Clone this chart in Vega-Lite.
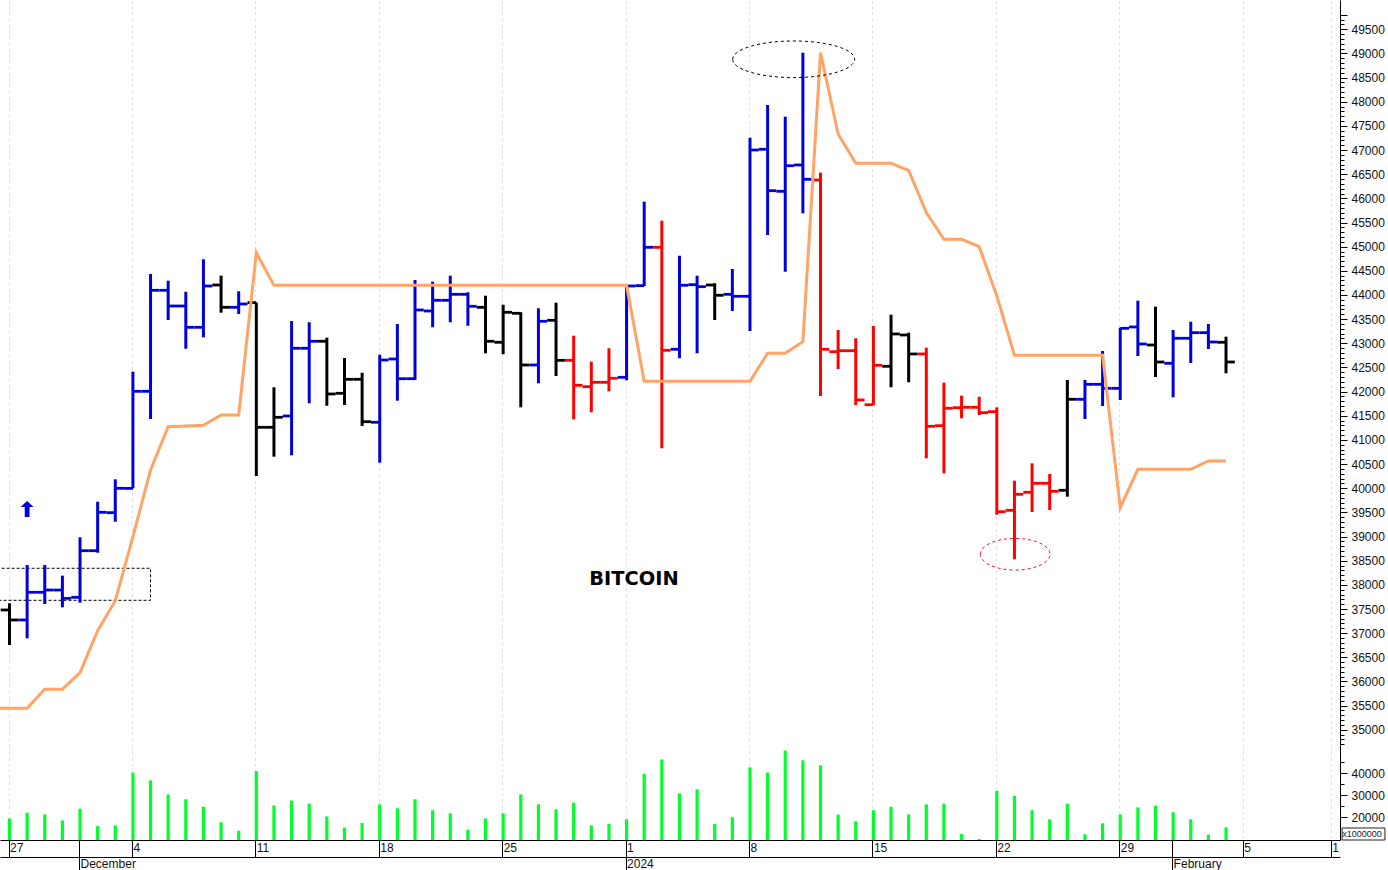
{
  "$schema": "https://vega.github.io/schema/vega-lite/v6.json",
  "background": "white",
  "padding": 0,
  "spacing": 0,
  "bounds": "flush",
  "config": {
    "view": {"stroke": null},
    "axis": {"labelFont": "Liberation Sans", "labelFontSize": 12, "labelColor": "#111111", "domainColor": "#000000", "tickColor": "#000000", "title": null}
  },
  "datasets": {
    "bars": [
      {"date":"2023-11-27","open":37480,"high":37618,"low":36755,"close":37273,"volume":19500,"trend":"flat"},
      {"date":"2023-11-28","open":37273,"high":38411,"low":36893,"close":37846,"volume":22100,"trend":"up"},
      {"date":"2023-11-29","open":37846,"high":38411,"low":37604,"close":37893,"volume":21300,"trend":"up"},
      {"date":"2023-11-30","open":37893,"high":38190,"low":37535,"close":37722,"volume":18600,"trend":"up"},
      {"date":"2023-12-01","open":37742,"high":38984,"low":37631,"close":38707,"volume":23900,"trend":"up"},
      {"date":"2023-12-02","open":38707,"high":39721,"low":38666,"close":39502,"volume":16000,"trend":"up"},
      {"date":"2023-12-03","open":39494,"high":40185,"low":39307,"close":39999,"volume":16300,"trend":"up"},
      {"date":"2023-12-04","open":39999,"high":42412,"low":39999,"close":42006,"volume":40300,"trend":"up"},
      {"date":"2023-12-05","open":42006,"high":44435,"low":41433,"close":44097,"volume":36800,"trend":"up"},
      {"date":"2023-12-06","open":44097,"high":44296,"low":43482,"close":43772,"volume":30400,"trend":"up"},
      {"date":"2023-12-07","open":43772,"high":44068,"low":42888,"close":43331,"volume":28200,"trend":"up"},
      {"date":"2023-12-08","open":43331,"high":44739,"low":43124,"close":44186,"volume":24800,"trend":"up"},
      {"date":"2023-12-09","open":44207,"high":44400,"low":43634,"close":43745,"volume":17700,"trend":"flat"},
      {"date":"2023-12-10","open":43745,"high":44077,"low":43607,"close":43814,"volume":13900,"trend":"up"},
      {"date":"2023-12-11","open":43841,"high":43841,"low":40253,"close":41261,"volume":41000,"trend":"flat"},
      {"date":"2023-12-12","open":41261,"high":42089,"low":40653,"close":41468,"volume":25400,"trend":"flat"},
      {"date":"2023-12-13","open":41495,"high":43462,"low":40682,"close":42897,"volume":27600,"trend":"up"},
      {"date":"2023-12-14","open":42897,"high":43435,"low":41758,"close":43042,"volume":26200,"trend":"up"},
      {"date":"2023-12-15","open":43042,"high":43116,"low":41708,"close":41951,"volume":20400,"trend":"flat"},
      {"date":"2023-12-16","open":41965,"high":42696,"low":41723,"close":42255,"volume":15300,"trend":"flat"},
      {"date":"2023-12-17","open":42255,"high":42391,"low":41288,"close":41377,"volume":17400,"trend":"flat"},
      {"date":"2023-12-18","open":41365,"high":42764,"low":40529,"close":42654,"volume":25900,"trend":"up"},
      {"date":"2023-12-19","open":42675,"high":43400,"low":41812,"close":42267,"volume":24100,"trend":"up"},
      {"date":"2023-12-20","open":42267,"high":44310,"low":42240,"close":43690,"volume":28200,"trend":"up"},
      {"date":"2023-12-21","open":43669,"high":44275,"low":43331,"close":43890,"volume":23200,"trend":"up"},
      {"date":"2023-12-22","open":43890,"high":44400,"low":43435,"close":44014,"volume":21800,"trend":"up"},
      {"date":"2023-12-23","open":44014,"high":44056,"low":43364,"close":43766,"volume":14400,"trend":"up"},
      {"date":"2023-12-24","open":43745,"high":43985,"low":42793,"close":43042,"volume":19500,"trend":"flat"},
      {"date":"2023-12-25","open":43021,"high":43799,"low":42773,"close":43642,"volume":21800,"trend":"flat"},
      {"date":"2023-12-26","open":43621,"high":43642,"low":41675,"close":42551,"volume":30400,"trend":"flat"},
      {"date":"2023-12-27","open":42551,"high":43725,"low":42172,"close":43456,"volume":25900,"trend":"up"},
      {"date":"2023-12-28","open":43476,"high":43841,"low":42323,"close":42648,"volume":23600,"trend":"flat"},
      {"date":"2023-12-29","open":42648,"high":43157,"low":41427,"close":42131,"volume":26700,"trend":"down"},
      {"date":"2023-12-30","open":42102,"high":42619,"low":41572,"close":42193,"volume":16300,"trend":"down"},
      {"date":"2023-12-31","open":42193,"high":42897,"low":42006,"close":42276,"volume":17000,"trend":"down"},
      {"date":"2024-01-01","open":42296,"high":44172,"low":42234,"close":44186,"volume":19100,"trend":"up"},
      {"date":"2024-01-02","open":44193,"high":45931,"low":44186,"close":44987,"volume":39700,"trend":"up"},
      {"date":"2024-01-03","open":44987,"high":45538,"low":40827,"close":42855,"volume":46300,"trend":"down"},
      {"date":"2024-01-04","open":42876,"high":44813,"low":42690,"close":44201,"volume":30900,"trend":"up"},
      {"date":"2024-01-05","open":44213,"high":44400,"low":42793,"close":44172,"volume":32700,"trend":"up"},
      {"date":"2024-01-06","open":44207,"high":44242,"low":43482,"close":43994,"volume":17000,"trend":"flat"},
      {"date":"2024-01-07","open":44014,"high":44538,"low":43669,"close":43973,"volume":20000,"trend":"up"},
      {"date":"2024-01-08","open":43973,"high":47256,"low":43255,"close":47001,"volume":42700,"trend":"up"},
      {"date":"2024-01-09","open":47016,"high":47933,"low":45242,"close":46159,"volume":40300,"trend":"up"},
      {"date":"2024-01-10","open":46146,"high":47691,"low":44482,"close":46676,"volume":50300,"trend":"up"},
      {"date":"2024-01-11","open":46691,"high":49016,"low":45691,"close":46395,"volume":45900,"trend":"up"},
      {"date":"2024-01-12","open":46380,"high":46532,"low":41909,"close":42876,"volume":43600,"trend":"down"},
      {"date":"2024-01-13","open":42826,"high":43276,"low":42468,"close":42847,"volume":21200,"trend":"down"},
      {"date":"2024-01-14","open":42847,"high":43104,"low":41723,"close":41827,"volume":18200,"trend":"down"},
      {"date":"2024-01-15","open":41729,"high":43358,"low":41723,"close":42545,"volume":23200,"trend":"down"},
      {"date":"2024-01-16","open":42524,"high":43592,"low":42089,"close":43193,"volume":24800,"trend":"flat"},
      {"date":"2024-01-17","open":43172,"high":43220,"low":42193,"close":42779,"volume":21300,"trend":"flat"},
      {"date":"2024-01-18","open":42779,"high":42909,"low":40620,"close":41282,"volume":25900,"trend":"down"},
      {"date":"2024-01-19","open":41295,"high":42185,"low":40309,"close":41655,"volume":26200,"trend":"down"},
      {"date":"2024-01-20","open":41667,"high":41916,"low":41448,"close":41675,"volume":12400,"trend":"down"},
      {"date":"2024-01-21","open":41675,"high":41895,"low":41516,"close":41564,"volume":10100,"trend":"down"},
      {"date":"2024-01-22","open":41585,"high":41675,"low":39452,"close":39514,"volume":32000,"trend":"down"},
      {"date":"2024-01-23","open":39543,"high":40156,"low":38529,"close":39874,"volume":29700,"trend":"down"},
      {"date":"2024-01-24","open":39916,"high":40516,"low":39508,"close":40102,"volume":23200,"trend":"down"},
      {"date":"2024-01-25","open":40102,"high":40295,"low":39549,"close":39936,"volume":19100,"trend":"down"},
      {"date":"2024-01-26","open":39957,"high":42240,"low":39825,"close":41841,"volume":26200,"trend":"flat"},
      {"date":"2024-01-27","open":41841,"high":42240,"low":41433,"close":42151,"volume":12300,"trend":"up"},
      {"date":"2024-01-28","open":42151,"high":42841,"low":41702,"close":42068,"volume":17300,"trend":"up"},
      {"date":"2024-01-29","open":42068,"high":43323,"low":41827,"close":43310,"volume":21300,"trend":"up"},
      {"date":"2024-01-30","open":43338,"high":43882,"low":42737,"close":42986,"volume":24500,"trend":"up"},
      {"date":"2024-01-31","open":42965,"high":43758,"low":42303,"close":42613,"volume":25300,"trend":"flat"},
      {"date":"2024-02-01","open":42586,"high":43276,"low":41882,"close":43104,"volume":22300,"trend":"up"},
      {"date":"2024-02-02","open":43104,"high":43447,"low":42592,"close":43220,"volume":19100,"trend":"up"},
      {"date":"2024-02-03","open":43220,"high":43400,"low":42882,"close":43027,"volume":12100,"trend":"up"},
      {"date":"2024-02-04","open":43021,"high":43137,"low":42379,"close":42613,"volume":15400,"trend":"flat"}
    ],
    "stop": [
      {"date":"2023-11-26","value":35445},{"date":"2023-11-27","value":35445},{"date":"2023-11-28","value":35445},
      {"date":"2023-11-29","value":35838},{"date":"2023-11-30","value":35838},{"date":"2023-12-01","value":36182},
      {"date":"2023-12-02","value":37051},{"date":"2023-12-03","value":37672},{"date":"2023-12-04","value":38997},
      {"date":"2023-12-05","value":40378},{"date":"2023-12-06","value":41274},{"date":"2023-12-07","value":41288},
      {"date":"2023-12-08","value":41303},{"date":"2023-12-09","value":41516},{"date":"2023-12-10","value":41516},
      {"date":"2023-12-11","value":44876},{"date":"2023-12-12","value":44199},{"date":"2023-12-13","value":44199},
      {"date":"2023-12-14","value":44199},{"date":"2023-12-15","value":44199},{"date":"2023-12-16","value":44199},
      {"date":"2023-12-17","value":44199},{"date":"2023-12-18","value":44199},{"date":"2023-12-19","value":44199},
      {"date":"2023-12-20","value":44199},{"date":"2023-12-21","value":44199},{"date":"2023-12-22","value":44199},
      {"date":"2023-12-23","value":44199},{"date":"2023-12-24","value":44199},{"date":"2023-12-25","value":44199},
      {"date":"2023-12-26","value":44199},{"date":"2023-12-27","value":44199},{"date":"2023-12-28","value":44199},
      {"date":"2023-12-29","value":44199},{"date":"2023-12-30","value":44199},{"date":"2023-12-31","value":44199},
      {"date":"2024-01-01","value":44199},{"date":"2024-01-02","value":42214},{"date":"2024-01-03","value":42214},
      {"date":"2024-01-04","value":42214},{"date":"2024-01-05","value":42214},{"date":"2024-01-06","value":42214},
      {"date":"2024-01-07","value":42214},{"date":"2024-01-08","value":42214},{"date":"2024-01-09","value":42793},
      {"date":"2024-01-10","value":42793},{"date":"2024-01-11","value":43033},{"date":"2024-01-12","value":49016},
      {"date":"2024-01-13","value":47333},{"date":"2024-01-14","value":46726},{"date":"2024-01-15","value":46726},
      {"date":"2024-01-16","value":46726},{"date":"2024-01-17","value":46581},{"date":"2024-01-18","value":45704},
      {"date":"2024-01-19","value":45153},{"date":"2024-01-20","value":45153},{"date":"2024-01-21","value":45000},
      {"date":"2024-01-22","value":43980},{"date":"2024-01-23","value":42752},{"date":"2024-01-24","value":42752},
      {"date":"2024-01-25","value":42752},{"date":"2024-01-26","value":42752},{"date":"2024-01-27","value":42752},
      {"date":"2024-01-28","value":42752},{"date":"2024-01-29","value":39597},{"date":"2024-01-30","value":40392},
      {"date":"2024-01-31","value":40392},{"date":"2024-02-01","value":40392},{"date":"2024-02-02","value":40392},
      {"date":"2024-02-03","value":40564},{"date":"2024-02-04","value":40564}
    ]
  },
  "vconcat": [
    {
      "width": 1340,
      "height": 745,
      "encoding": {
        "x": {
          "field": "date",
          "type": "temporal",
          "scale": {"type": "utc", "domain": ["2023-11-26T11:04:00Z", "2024-02-10T11:10:00Z"], "nice": false, "padding": 0},
          "axis": {
            "orient": "bottom",
            "values": ["2023-11-27", "2023-12-04", "2023-12-11", "2023-12-18", "2023-12-25", "2024-01-01", "2024-01-08", "2024-01-15", "2024-01-22", "2024-01-29", "2024-02-05", "2024-02-10"],
            "tickCount": 20, "tickOffset": -1,
            "grid": true, "gridDash": [3, 3], "gridColor": "#dddfee", "gridWidth": 1,
            "ticks": false, "labels": false, "domain": false, "title": null
          }
        }
      },
      "layer": [
        {
          "data": {"values": [{"start": "2023-11-24", "end": "2023-12-05", "top": 38343, "bottom": 37680}]},
          "mark": {"type": "rect", "fill": null, "stroke": "#000000", "strokeWidth": 1, "strokeDash": [3, 2], "clip": true},
          "encoding": {
            "x": {"field": "start", "type": "temporal"},
            "x2": {"field": "end"},
            "y": {"field": "top", "type": "quantitative", "scale": {"domain": [34685, 50106], "zero": false, "nice": false}},
            "y2": {"field": "bottom"}
          }
        },
        {
          "data": {"name": "bars"},
          "mark": {"type": "rule", "strokeWidth": 3, "clip": true},
          "encoding": {
            "y": {"field": "low", "type": "quantitative"},
            "y2": {"field": "high"},
            "color": {"field": "trend", "type": "nominal", "scale": {"domain": ["up", "flat", "down"], "range": ["#0000dc", "#000000", "#ff0000"]}, "legend": null}
          }
        },
        {
          "data": {"name": "bars"},
          "mark": {"type": "tick", "orient": "horizontal", "size": 8.8, "thickness": 2.8, "xOffset": -4.4, "opacity": 1, "clip": true},
          "encoding": {
            "y": {"field": "open", "type": "quantitative"},
            "color": {"field": "trend", "type": "nominal", "legend": null}
          }
        },
        {
          "data": {"name": "bars"},
          "mark": {"type": "tick", "orient": "horizontal", "size": 8.8, "thickness": 2.8, "xOffset": 4.4, "opacity": 1, "clip": true},
          "encoding": {
            "y": {"field": "close", "type": "quantitative"},
            "color": {"field": "trend", "type": "nominal", "legend": null}
          }
        },
        {
          "data": {"name": "stop"},
          "mark": {"type": "line", "color": "#ffa366", "strokeWidth": 3, "strokeJoin": "miter", "clip": true},
          "encoding": {
            "y": {"field": "value", "type": "quantitative"}
          }
        },
        {
          "data": {"values": [{"date": "2024-01-10T11:27:00Z", "price": 48879}]},
          "mark": {"type": "point", "filled": false, "stroke": "#000000", "strokeWidth": 1, "strokeDash": [3, 3], "opacity": 1, "size": 14884, "shape": "M-1,0 A1,0.3 0 1,1 1,0 A1,0.3 0 1,1 -1,0 Z"},
          "encoding": {
            "y": {"field": "price", "type": "quantitative"}
          }
        },
        {
          "data": {"values": [{"date": "2024-01-23T01:00:00Z", "price": 38634}]},
          "mark": {"type": "point", "filled": false, "stroke": "#f0103c", "strokeWidth": 1, "strokeDash": [3, 3], "opacity": 1, "size": 4858, "shape": "M-1,0 A1,0.454 0 1,1 1,0 A1,0.454 0 1,1 -1,0 Z"},
          "encoding": {
            "y": {"field": "price", "type": "quantitative"}
          }
        },
        {
          "data": {"values": [{"date": "2023-11-28", "price": 39571}]},
          "mark": {"type": "point", "filled": true, "fill": "#0000dc", "stroke": null, "opacity": 1, "size": 256, "shape": "M0,-1 L0.8,-0.25 L0.3,-0.25 L0.3,1 L-0.3,1 L-0.3,-0.25 L-0.8,-0.25 Z"},
          "encoding": {
            "y": {"field": "price", "type": "quantitative"}
          }
        },
        {
          "data": {"values": [{"date": "2024-01-01T10:00:00Z", "price": 38130, "label": "BITCOIN"}]},
          "mark": {"type": "text", "font": "DejaVu Sans", "fontWeight": "bold", "fontSize": 19.4, "color": "#000000"},
          "encoding": {
            "y": {
              "field": "price",
              "type": "quantitative",
              "axis": {
                "orient": "right", "labelOverlap": false, "labelPadding": 4, "tickCount": 200,
                "values": [34700,34800,34900,35000,35100,35200,35300,35400,35500,35600,35700,35800,35900,36000,36100,36200,36300,36400,36500,36600,36700,36800,36900,37000,37100,37200,37300,37400,37500,37600,37700,37800,37900,38000,38100,38200,38300,38400,38500,38600,38700,38800,38900,39000,39100,39200,39300,39400,39500,39600,39700,39800,39900,40000,40100,40200,40300,40400,40500,40600,40700,40800,40900,41000,41100,41200,41300,41400,41500,41600,41700,41800,41900,42000,42100,42200,42300,42400,42500,42600,42700,42800,42900,43000,43100,43200,43300,43400,43500,43600,43700,43800,43900,44000,44100,44200,44300,44400,44500,44600,44700,44800,44900,45000,45100,45200,45300,45400,45500,45600,45700,45800,45900,46000,46100,46200,46300,46400,46500,46600,46700,46800,46900,47000,47100,47200,47300,47400,47500,47600,47700,47800,47900,48000,48100,48200,48300,48400,48500,48600,48700,48800,48900,49000,49100,49200,49300,49400,49500,49600,49700,49800],
                "labelExpr": "datum.value % 500 === 0 ? format(datum.value, 'd') : ''",
                "tickSize": {"condition": {"test": "datum.value % 500 === 0 || datum.value === 49800", "value": 7}, "value": 4},
                "grid": false, "title": null
              }
            },
            "text": {"field": "label", "type": "nominal"}
          }
        }
      ]
    },
    {
      "width": 1340,
      "height": 95,
      "resolve": {"axis": {"x": "independent"}},
      "layer": [
        {
          "data": {"name": "bars"},
          "mark": {"type": "bar", "width": 3.2, "color": "#00ff2a", "clip": true},
          "encoding": {
            "x": {
              "field": "date",
              "type": "temporal",
              "scale": {"type": "utc", "domain": ["2023-11-26T11:04:00Z", "2024-02-10T11:10:00Z"], "nice": false, "padding": 0},
              "axis": {
                "orient": "bottom",
                "values": ["2023-11-27", "2023-12-04", "2023-12-11", "2023-12-18", "2023-12-25", "2024-01-01", "2024-01-08", "2024-01-15", "2024-01-22", "2024-01-29", "2024-02-05", "2024-02-10"],
                "tickCount": 20, "tickOffset": -1,
                "grid": true, "gridDash": [3, 3], "gridColor": "#dddfee", "gridWidth": 1,
                "tickSize": 17, "labelAlign": "left", "labelBaseline": "top", "labelPadding": -15, "labelOffset": 1,
                "labelFlush": false, "labelOverlap": false, "title": null,
                "labelExpr": "utcdate(datum.value) === 10 ? '1' : '' + utcdate(datum.value)"
              }
            },
            "y": {
              "field": "volume",
              "type": "quantitative",
              "scale": {"domain": [9680, 52860], "zero": false, "nice": false},
              "axis": {
                "orient": "right", "values": [20000, 25000, 30000, 35000, 40000, 45000], "tickCount": 10, "labelOverlap": false, "labelPadding": 4,
                "labelExpr": "datum.value % 10000 === 0 ? format(datum.value, 'd') : ''",
                "tickSize": {"condition": {"test": "datum.value % 10000 === 0", "value": 7}, "value": 4},
                "grid": false, "title": null
              }
            }
          }
        },
        {
          "data": {"values": [{"date": "2023-12-01", "volume": 20000}, {"date": "2024-01-01", "volume": 20000}, {"date": "2024-02-01", "volume": 20000}]},
          "mark": {"type": "point", "opacity": 0},
          "encoding": {
            "x": {
              "field": "date",
              "type": "temporal",
              "axis": {
                "orient": "bottom",
                "values": ["2023-12-01", "2024-01-01", "2024-02-01"],
                "tickCount": 5, "tickOffset": -1,
                "domain": false, "grid": false, "tickSize": 30, "labelAlign": "left", "labelBaseline": "top",
                "labelPadding": -12, "labelOffset": 1, "labelFlush": false, "labelOverlap": false, "title": null,
                "labelExpr": "utcmonth(datum.value) === 0 ? '' + utcyear(datum.value) : utcFormat(datum.value, '%B')"
              }
            },
            "y": {"field": "volume", "type": "quantitative"}
          }
        },
        {
          "data": {"values": [{"date": "2024-01-01", "volume": 20000}]},
          "mark": {"type": "point", "opacity": 0},
          "encoding": {
            "x": {
              "field": "date",
              "type": "temporal",
              "axis": {"orient": "bottom", "offset": 17, "values": [], "domain": true, "ticks": false, "labels": false, "grid": false, "title": null}
            },
            "y": {"field": "volume", "type": "quantitative"}
          }
        },
        {
          "data": {"values": [{"start": "2024-02-10T14:00:00Z", "end": "2024-02-13T00:20:00Z", "top": 15137, "bottom": 9680}]},
          "mark": {"type": "rect", "fill": null, "stroke": "#222222", "strokeWidth": 1},
          "encoding": {
            "x": {"field": "start", "type": "temporal", "axis": null},
            "x2": {"field": "end"},
            "y": {"field": "top", "type": "quantitative"},
            "y2": {"field": "bottom"}
          }
        },
        {
          "data": {"values": [{"date": "2024-02-11T17:00:00Z", "value": 12400, "label": "x1000000"}]},
          "mark": {"type": "text", "font": "Liberation Sans", "fontSize": 9, "color": "#222222"},
          "encoding": {
            "x": {"field": "date", "type": "temporal", "axis": null},
            "y": {"field": "value", "type": "quantitative"},
            "text": {"field": "label", "type": "nominal"}
          }
        }
      ]
    }
  ]
}
